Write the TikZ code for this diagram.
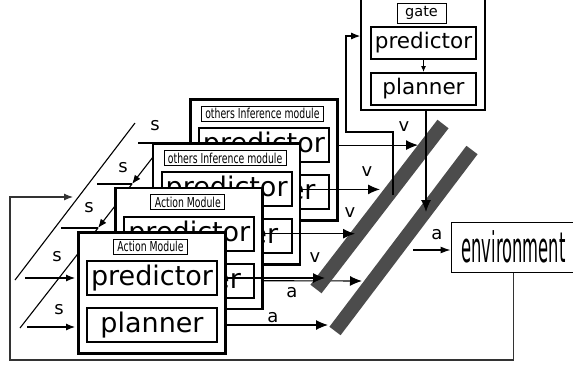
\documentclass[tikz,border=0pt]{standalone}
\usepackage{fontspec}
\setmainfont{DejaVu Sans}
\newfontfamily\narrowfont[FakeStretch=0.68]{DejaVu Sans}
\newfontfamily\envfont[FakeStretch=0.39]{DejaVu Sans}
\usetikzlibrary{arrows.meta,calc}

\tikzset{
  module/.style={draw, line width=2.6pt, fill=white, minimum width=147pt, minimum height=121pt, anchor=north west, inner sep=0pt},
  part/.style={draw, line width=2pt, fill=white, minimum width=130pt, minimum height=34pt, inner sep=0pt, font=\fontsize{27}{27}\selectfont},
  gpart/.style={draw, line width=2pt, fill=white, minimum width=105pt, minimum height=32pt, inner sep=0pt, font=\fontsize{21.5}{22}\selectfont},
  tag/.style={draw, line width=0.9pt, fill=white, minimum height=15pt, inner xsep=4pt, inner ysep=0pt, font=\narrowfont\fontsize{13.7}{14}\selectfont},
  sig/.style={inner sep=0pt, font=\fontsize{18}{18}\selectfont},
  wire/.style={line width=1.1pt},
  outwire/.style={wire, -{Latex[length=12pt,width=10pt]}},
  feedwire/.style={wire, -{Latex[length=9pt,width=7pt]}},
  bar/.style={line width=14pt, draw=black!70}
}

\begin{document}
\begin{tikzpicture}[x=1pt, y=-1pt]
		%%%%% START %%%%%
		\useasboundingbox (0,0) rectangle (573,365);
		
		% s distribution on the left
		\draw[wire] (15,280) -- (135,123);
		\draw[feedwire] (160,148) -- (132,184);
		\draw[feedwire] (132,184) -- (98,228);
		\draw[wire] (98,228) -- (20,328);
		\draw[wire] (138,143) -- (160,143);
		\draw[wire] (97,184) -- (132,184);
		\draw[wire] (61,228) -- (98,228);
		
		\coordinate (fb) at (73,197);
		\coordinate (s1) at (25,278);
		\coordinate (s2) at (27,327);
		
		% the stacked modules, back to front
		\foreach \i/\name in {4/others Inference module,3/others Inference module,2/Action Module,1/Action Module}{
			\node[module] (m\i) at ({77+37.3*(\i-1)},{231-44.3*(\i-1)}) {};
			\node[tag] (m\i-t) at ($(m\i.north west)+(73.5,15.5)$) {\name};
			\node[part] (m\i-p) at ($(m\i.north west)+(75,47)$) {predictor};
			\node[part] (m\i-q) at ($(m\i.north west)+(75,94)$) {planner};
		}
		
		\draw[feedwire, shorten >=2pt] (s1) -- (m1.west |- s1);
		\draw[feedwire, shorten >=2pt] (s2) -- (m1.west |- s2);
		
		\node[sig] (ls5) at (155,126) {s};
		\node[sig] (ls4) at (123,168) {s};
		\node[sig] (ls3) at (89,208) {s};
		\node[sig] (ls1) at (57,257) {s};
		\node[sig] (ls2) at (59,310) {s};
		
		% gate and environment
		\node[draw, line width=1.6pt, fill=white, minimum width=124pt, minimum height=116pt, inner sep=0pt] (gate) at (423,52) {};
		\node[draw, line width=0.9pt, minimum width=49pt, minimum height=20pt, inner sep=0pt, font=\fontsize{14.5}{15}\selectfont] (gate-t) at (421.5,13) {gate};
		\node[gpart] (gate-p) at (423.5,43) {predictor};
		\node[gpart] (gate-q) at (423.5,89) {planner};
		\draw[wire, -{Latex[length=6pt,width=5pt]}] (gate-p) -- (gate-q);
		
		\node[draw, line width=1pt, fill=white, minimum width=125pt, minimum height=50pt, inner sep=0pt, font=\envfont\fontsize{42}{42}\selectfont] (env) at (513.5,247) {environment};
		
		% a from the second module, under the first bar
		\coordinate (a2) at (362,281);
		\draw[outwire] (m2.east |- m2-q) -- (a2);
		
		% the two bars
		\draw[bar] (316,289) -- (443,124);
		\draw[bar] (335,331) -- (472,150);
		
		% v outputs
		\coordinate (v4) at (418,143);
		\coordinate (v3) at (380,188);
		\coordinate (v2) at (355,233);
		\coordinate (v1) at (325,278);
		\foreach \i in {1,...,4}
			\draw[outwire] (m\i.east |- m\i-p) -- (v\i |- m\i-p);
		\coordinate (a1) at (328,325);
		\draw[outwire] (m1.east |- m1-q) -- (a1 |- m1-q);
		
		\node[sig] (lv4) at (404,127) {v};
		\node[sig] (lv3) at (367,172) {v};
		\node[sig] (lv2) at (350,213) {v};
		\node[sig] (lv1) at (315,258) {v};
		\node[sig] (la2) at (292,293) {a};
		\node[sig] (la1) at (273,318) {a};
		
		% gate loop
		\coordinate (b1g) at (393,195);
		\draw[feedwire] (b1g) -- (393,132) -| (346,36) -- (gate.west |- 0,36);
		\coordinate (g2) at (426,212);
		\draw[outwire] (gate.south -| g2) -- (g2);
		
		\coordinate (b2e) at (413,250);
		\draw[wire, -{Latex[length=10pt,width=7pt]}] (b2e) -- (env.west |- b2e);
		\node[sig] (la3) at (437,235) {a};
		
		% back to the modules
		\draw[feedwire, draw=black!80] (env.south) |- (10,360) |- (fb);
		
		%%%%% END %%%%%
\end{tikzpicture}
\end{document}
